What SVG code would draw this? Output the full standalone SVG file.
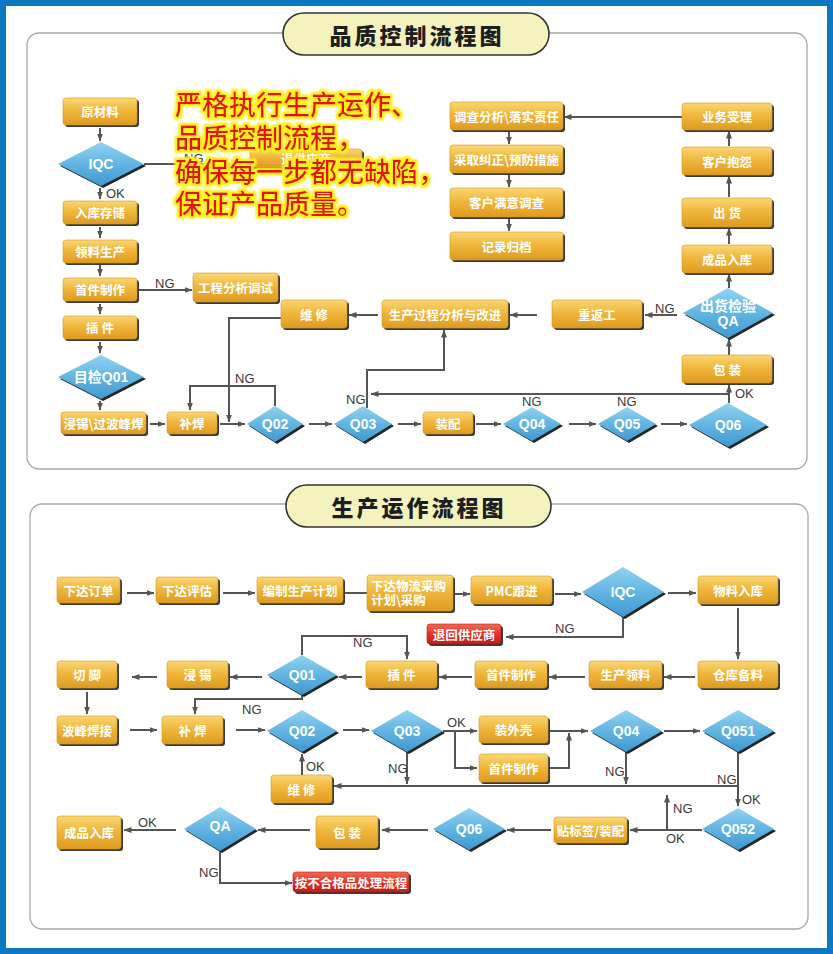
<svg xmlns="http://www.w3.org/2000/svg" width="833" height="954" viewBox="0 0 833 954">
<defs>
<linearGradient id="gOr" x1="0" y1="0" x2="0" y2="1">
<stop offset="0" stop-color="#f9d774"/><stop offset="0.45" stop-color="#f0b73c"/><stop offset="1" stop-color="#dd9b20"/>
</linearGradient>
<linearGradient id="gBl" x1="0" y1="0" x2="0" y2="1">
<stop offset="0" stop-color="#92d2f1"/><stop offset="0.5" stop-color="#62b5e3"/><stop offset="1" stop-color="#3f98d0"/>
</linearGradient>
<linearGradient id="gRd" x1="0" y1="0" x2="0" y2="1">
<stop offset="0" stop-color="#f26a55"/><stop offset="0.5" stop-color="#e0352a"/><stop offset="1" stop-color="#c21d16"/>
</linearGradient>
<marker id="ah" viewBox="0 0 8 6" refX="7.5" refY="3" markerWidth="8" markerHeight="6" markerUnits="userSpaceOnUse" orient="auto">
<path d="M0,0 L8,3 L0,6 z" fill="#555"/>
</marker>
<filter id="glow" x="-5%" y="-30%" width="110%" height="160%">
<feMorphology in="SourceAlpha" operator="dilate" radius="2" result="d"/>
<feGaussianBlur in="d" stdDeviation="1.2" result="b"/>
<feFlood flood-color="#fff01e"/>
<feComposite in2="b" operator="in" result="g"/>
<feMerge><feMergeNode in="g"/><feMergeNode in="g"/><feMergeNode in="SourceGraphic"/></feMerge>
</filter>
</defs>
<style>
.sh{fill:#3a3a3a}
.bx{fill:url(#gOr);stroke:#d9981c;stroke-width:0.6}
.rb{fill:url(#gRd);stroke:#b81a12;stroke-width:0.6}
.dm{fill:url(#gBl)}
.dsh{fill:#262626}
.bt{font-family:"Noto Sans CJK SC","Liberation Sans",sans-serif;font-weight:700;fill:#fff;text-anchor:middle;dominant-baseline:central;font-size:12.5px}
.bl{font-family:"Noto Sans CJK SC","Liberation Sans",sans-serif;font-weight:700;fill:#fff;font-size:12.5px}
.dt{font-family:"Liberation Sans","Noto Sans CJK SC",sans-serif;font-weight:700;fill:#fff;text-anchor:middle;dominant-baseline:central;font-size:14px}
.lb{font-family:"Liberation Sans",sans-serif;font-size:13px;fill:#3a3a3a}
.c{fill:none;stroke:#555;stroke-width:2}
.a{marker-end:url(#ah)}
.panel{fill:#fff;stroke:#a8a8a8;stroke-width:1.3}
.pill{fill:#f4f2bd;stroke:#333;stroke-width:1.6}
.ttl{font-family:"Noto Sans CJK SC",sans-serif;font-weight:900;font-size:22px;fill:#1e1e1e;text-anchor:middle;letter-spacing:3px}
.big{font-family:"Noto Sans CJK SC",sans-serif;font-weight:500;font-size:27px;fill:#e3140c}
</style>

<rect x="3" y="3" width="827" height="948" fill="#fff" stroke="#0b78c1" stroke-width="6"/>

<g id="panel-top">
<rect class="panel" x="27" y="33" width="780" height="436" rx="12"/>
<rect class="pill" x="283" y="13" width="266" height="42" rx="21"/>
<text class="ttl" x="417" y="44">品质控制流程图</text>
</g>
<g id="panel-bottom">
<rect class="panel" x="30" y="504" width="778" height="425" rx="12"/>
<rect class="pill" x="286" y="485" width="265" height="42" rx="21"/>
<text class="ttl" x="419" y="516">生产运作流程图</text>
</g>

<g id="connectors">
<path class="c a" d="M100,128 V141"/>
<path class="c a" d="M100,188 V199"/>
<path class="c" d="M144,164 H250"/>
<path class="c a" d="M100,227 V238"/>
<path class="c a" d="M100,265 V276"/>
<path class="c a" d="M137,290 H192"/>
<path class="c a" d="M100,304 V314"/>
<path class="c a" d="M100,342 V353"/>
<path class="c a" d="M100,401 V410"/>
<path class="c a" d="M150,424 H165"/>
<path class="c a" d="M220,424 H245"/>
<path class="c a" d="M281,318 H229 V422"/>
<path class="c a" d="M275,406 V386 H190 V410"/>
<path class="c a" d="M309,424 H332"/>
<path class="c a" d="M398,424 H421"/>
<path class="c a" d="M367,408 V370 H444 V330"/>
<path class="c a" d="M729,394 H371"/>
<path class="c a" d="M729,403 V385"/>
<path class="c a" d="M476,424 H501"/>
<path class="c a" d="M569,424 H596"/>
<path class="c a" d="M661,424 H687"/>
<path class="c a" d="M729,355 V339"/>
<path class="c a" d="M729,288 V274"/>
<path class="c a" d="M677,315 H645"/>
<path class="c a" d="M537,315 H510"/>
<path class="c a" d="M378,315 H349"/>
<path class="c a" d="M729,244 V228"/>
<path class="c a" d="M729,197 V176"/>
<path class="c a" d="M729,146 V131"/>
<path class="c a" d="M682,117 H564"/>
<path class="c a" d="M509,132 V144"/>
<path class="c a" d="M509,175 V187"/>
<path class="c a" d="M509,219 V231"/>
<path class="c a" d="M127,593 H154"/>
<path class="c a" d="M223,593 H255"/>
<path class="c" d="M345,593 H367"/>
<path class="c a" d="M455,594 H470"/>
<path class="c a" d="M555,594 H581"/>
<path class="c a" d="M668,593 H696"/>
<path class="c a" d="M738,608 V659"/>
<path class="c a" d="M623,617 V637 H506"/>
<path class="c a" d="M695,677 H664"/>
<path class="c a" d="M585,677 H549"/>
<path class="c a" d="M472,677 H439"/>
<path class="c a" d="M362,677 H339"/>
<path class="c a" d="M262,677 H230"/>
<path class="c a" d="M157,677 H132"/>
<path class="c a" d="M87,692 V714"/>
<path class="c a" d="M302,655 V636 H407 V659"/>
<path class="c a" d="M302,695 V699 H195 V714"/>
<path class="c a" d="M130,730 H157"/>
<path class="c a" d="M236,730 H265"/>
<path class="c a" d="M343,730 H369"/>
<path class="c a" d="M407,752 V784"/>
<path class="c a" d="M738,786 H334"/>
<path class="c a" d="M302,775 V754"/>
<path class="c a" d="M443,731 H477"/>
<path class="c a" d="M455,731 V768 H477"/>
<path class="c a" d="M550,731 H588"/>
<path class="c a" d="M550,768 H569 V733"/>
<path class="c a" d="M664,731 H700"/>
<path class="c a" d="M626,752 V784"/>
<path class="c a" d="M738,752 V806"/>
<path class="c a" d="M702,830 H630"/>
<path class="c a" d="M667,830 V795"/>
<path class="c a" d="M551,830 H507"/>
<path class="c a" d="M428,830 H382"/>
<path class="c a" d="M310,830 H258"/>
<path class="c a" d="M176,830 H124"/>
<path class="c a" d="M220,851 V883 H292"/>
</g>

<g id="labels">
<text class="lb" x="184" y="163">NG</text>
<text class="lb" x="106" y="198">OK</text>
<text class="lb" x="155" y="288">NG</text>
<text class="lb" x="235" y="383">NG</text>
<text class="lb" x="346" y="404">NG</text>
<text class="lb" x="522" y="406">NG</text>
<text class="lb" x="617" y="406">NG</text>
<text class="lb" x="735" y="398">OK</text>
<text class="lb" x="655" y="313">NG</text>
<text class="lb" x="555" y="633">NG</text>
<text class="lb" x="353" y="647">NG</text>
<text class="lb" x="242" y="714">NG</text>
<text class="lb" x="388" y="773">NG</text>
<text class="lb" x="306" y="771">OK</text>
<text class="lb" x="447" y="727">OK</text>
<text class="lb" x="605" y="776">NG</text>
<text class="lb" x="717" y="784">NG</text>
<text class="lb" x="742" y="804">OK</text>
<text class="lb" x="673" y="813">NG</text>
<text class="lb" x="666" y="843">OK</text>
<text class="lb" x="138" y="827">OK</text>
<text class="lb" x="199" y="877">NG</text>
</g>

<g id="n-yuancailiao"><rect class="sh" x="65" y="100" width="74" height="27" rx="3"/><rect class="bx" x="63" y="98" width="74" height="27" rx="3"/><text class="bt" x="100" y="111.5">原材料</text></g>
<g id="d-iqc1"><polygon class="dsh" points="60,166 103,144 146,166 103,188"/><polygon class="dm" points="58,164 101,142 144,164 101,186"/><text class="dt" x="101" y="164" font-size="15">IQC</text></g>
<g id="n-tuigongyingshang"><rect class="sh" x="252" y="151" width="112" height="18" rx="3"/><rect class="bx" x="250" y="149" width="112" height="18" rx="3"/><text class="bt" x="306" y="158" font-size="11">退供应商</text></g>
<g id="n-rukucunchu"><rect class="sh" x="65" y="203" width="74" height="23" rx="3"/><rect class="bx" x="63" y="201" width="74" height="23" rx="3"/><text class="bt" x="100" y="212.5">入库存储</text></g>
<g id="n-lingliaoshengchan"><rect class="sh" x="65" y="242" width="74" height="23" rx="3"/><rect class="bx" x="63" y="240" width="74" height="23" rx="3"/><text class="bt" x="100" y="251.5">领料生产</text></g>
<g id="n-shoujianzhizuo1"><rect class="sh" x="65" y="280" width="74" height="23" rx="3"/><rect class="bx" x="63" y="278" width="74" height="23" rx="3"/><text class="bt" x="100" y="289.5">首件制作</text></g>
<g id="n-gongchengfenxi"><rect class="sh" x="195" y="275" width="85" height="29" rx="3"/><rect class="bx" x="193" y="273" width="85" height="29" rx="3"/><text class="bt" x="235.5" y="287.5">工程分析调试</text></g>
<g id="n-chajian1"><rect class="sh" x="65" y="318" width="74" height="23" rx="3"/><rect class="bx" x="63" y="316" width="74" height="23" rx="3"/><text class="bt" x="100" y="327.5">插 件</text></g>
<g id="d-mujian"><polygon class="dsh" points="60,379 103,357 146,379 103,401"/><polygon class="dm" points="58,377 101,355 144,377 101,399"/><text class="dt" x="101" y="377" font-size="13">目检Q01</text></g>
<g id="n-jinxi1"><rect class="sh" x="63" y="414" width="85" height="22" rx="3"/><rect class="bx" x="61" y="412" width="85" height="22" rx="3"/><text class="bt" x="103.5" y="423" font-size="11.5">浸锡\过波峰焊</text></g>
<g id="n-buhan1"><rect class="sh" x="169" y="414" width="50" height="22" rx="3"/><rect class="bx" x="167" y="412" width="50" height="22" rx="3"/><text class="bt" x="192" y="423">补焊</text></g>
<g id="d-q02a"><polygon class="dsh" points="249,426 277,408 305,426 277,444"/><polygon class="dm" points="247,424 275,406 303,424 275,442"/><text class="dt" x="275" y="424">Q02</text></g>
<g id="d-q03a"><polygon class="dsh" points="336,426 365,408 394,426 365,444"/><polygon class="dm" points="334,424 363,406 392,424 363,442"/><text class="dt" x="363" y="424">Q03</text></g>
<g id="n-zhuangpei"><rect class="sh" x="425" y="414" width="50" height="22" rx="3"/><rect class="bx" x="423" y="412" width="50" height="22" rx="3"/><text class="bt" x="448" y="423">装配</text></g>
<g id="d-q04a"><polygon class="dsh" points="505,426 534,409 563,426 534,443"/><polygon class="dm" points="503,424 532,407 561,424 532,441"/><text class="dt" x="532" y="424">Q04</text></g>
<g id="d-q05a"><polygon class="dsh" points="600,426 629,409 658,426 629,443"/><polygon class="dm" points="598,424 627,407 656,424 627,441"/><text class="dt" x="627" y="424">Q05</text></g>
<g id="d-q06a"><polygon class="dsh" points="691,427 730,405 769,427 730,449"/><polygon class="dm" points="689,425 728,403 767,425 728,447"/><text class="dt" x="728" y="425" font-size="18">Q06</text></g>
<g id="n-weixiu1"><rect class="sh" x="283" y="302" width="66" height="28" rx="3"/><rect class="bx" x="281" y="300" width="66" height="28" rx="3"/><text class="bt" x="314" y="314">维 修</text></g>
<g id="n-shengchanguocheng"><rect class="sh" x="384" y="302" width="126" height="28" rx="3"/><rect class="bx" x="382" y="300" width="126" height="28" rx="3"/><text class="bt" x="445" y="314">生产过程分析与改进</text></g>
<g id="n-chongfangong"><rect class="sh" x="554" y="302" width="90" height="28" rx="3"/><rect class="bx" x="552" y="300" width="90" height="28" rx="3"/><text class="bt" x="597" y="314">重返工</text></g>
<g id="d-chuhuojianyan"><polygon class="dsh" points="685,315 730,290 775,315 730,340"/><polygon class="dm" points="683,313 728,288 773,313 728,338"/><text class="dt" x="728" y="306" font-size="10.5">出货检验</text><text class="dt" x="728" y="321" font-size="14" font-weight="400">QA</text></g>
<g id="n-chengpinruku1"><rect class="sh" x="684" y="247" width="90" height="28" rx="3"/><rect class="bx" x="682" y="245" width="90" height="28" rx="3"/><text class="bt" x="727" y="259">成品入库</text></g>
<g id="n-baozhuang1"><rect class="sh" x="684" y="357" width="90" height="28" rx="3"/><rect class="bx" x="682" y="355" width="90" height="28" rx="3"/><text class="bt" x="727" y="369">包 装</text></g>
<g id="n-chuhuo"><rect class="sh" x="684" y="200" width="90" height="29" rx="3"/><rect class="bx" x="682" y="198" width="90" height="29" rx="3"/><text class="bt" x="727" y="212.5">出 货</text></g>
<g id="n-kehubaoyuan"><rect class="sh" x="684" y="149" width="90" height="28" rx="3"/><rect class="bx" x="682" y="147" width="90" height="28" rx="3"/><text class="bt" x="727" y="161">客户抱怨</text></g>
<g id="n-yewushouli"><rect class="sh" x="684" y="105" width="90" height="27" rx="3"/><rect class="bx" x="682" y="103" width="90" height="27" rx="3"/><text class="bt" x="727" y="116.5">业务受理</text></g>
<g id="n-diaochafenxi"><rect class="sh" x="452" y="104" width="113" height="28" rx="3"/><rect class="bx" x="450" y="102" width="113" height="28" rx="3"/><text class="bt" x="506.5" y="116">调查分析\落实责任</text></g>
<g id="n-caiqujiuzheng"><rect class="sh" x="452" y="147" width="113" height="28" rx="3"/><rect class="bx" x="450" y="145" width="113" height="28" rx="3"/><text class="bt" x="506.5" y="159">采取纠正\预防措施</text></g>
<g id="n-kehumanyi"><rect class="sh" x="452" y="190" width="113" height="29" rx="3"/><rect class="bx" x="450" y="188" width="113" height="29" rx="3"/><text class="bt" x="506.5" y="202.5">客户满意调查</text></g>
<g id="n-jiluguidang"><rect class="sh" x="452" y="234" width="113" height="28" rx="3"/><rect class="bx" x="450" y="232" width="113" height="28" rx="3"/><text class="bt" x="506.5" y="246">记录归档</text></g>

<g id="overlay-text" filter="url(#glow)">
<text class="big" x="175" y="115">严格执行生产运作、</text>
<text class="big" x="175" y="148">品质控制流程，</text>
<text class="big" x="175" y="182">确保每一步都无缺陷，</text>
<text class="big" x="175" y="214">保证产品质量。</text>
</g>

<g id="b-xiadadingdan"><rect class="sh" x="59" y="579" width="63" height="26" rx="3"/><rect class="bx" x="57" y="577" width="63" height="26" rx="3"/><text class="bt" x="88.5" y="590">下达订单</text></g>
<g id="b-xiadapinggu"><rect class="sh" x="158" y="579" width="62" height="26" rx="3"/><rect class="bx" x="156" y="577" width="62" height="26" rx="3"/><text class="bt" x="187" y="590">下达评估</text></g>
<g id="b-bianzhi"><rect class="sh" x="259" y="579" width="86" height="26" rx="3"/><rect class="bx" x="257" y="577" width="86" height="26" rx="3"/><text class="bt" x="300" y="590">编制生产计划</text></g>
<g id="b-xiadawuliu"><rect class="sh" x="369" y="577" width="86" height="36" rx="3"/><rect class="bx" x="367" y="575" width="86" height="36" rx="3"/><text class="bl" x="371" y="591">下达物流采购</text><text class="bl" x="371" y="605">计划\采购</text></g>
<g id="b-pmc"><rect class="sh" x="473" y="578" width="81" height="28" rx="3"/><rect class="bx" x="471" y="576" width="81" height="28" rx="3"/><text class="bt" x="511.5" y="590" font-size="14">PMC跟进</text></g>
<g id="bd-iqc"><polygon class="dsh" points="584,594 625,569 666,594 625,619"/><polygon class="dm" points="582,592 623,567 664,592 623,617"/><text class="dt" x="623" y="592" font-size="15" font-weight="400">IQC</text></g>
<g id="b-wuliaoruku"><rect class="sh" x="700" y="578" width="80" height="28" rx="3"/><rect class="bx" x="698" y="576" width="80" height="28" rx="3"/><text class="bt" x="738" y="590">物料入库</text></g>
<g id="b-tuihui"><rect class="sh" x="429" y="626" width="74" height="20" rx="3"/><rect class="rb" x="427" y="624" width="74" height="20" rx="3"/><text class="bt" x="464" y="634" font-size="11.5">退回供应商</text></g>
<g id="b-cangkubeiliao"><rect class="sh" x="700" y="663" width="80" height="27" rx="3"/><rect class="bx" x="698" y="661" width="80" height="27" rx="3"/><text class="bt" x="738" y="674.5">仓库备料</text></g>
<g id="b-shengchanlingliao"><rect class="sh" x="591" y="663" width="73" height="27" rx="3"/><rect class="bx" x="589" y="661" width="73" height="27" rx="3"/><text class="bt" x="625.5" y="674.5">生产领料</text></g>
<g id="b-shoujian2"><rect class="sh" x="477" y="663" width="72" height="27" rx="3"/><rect class="bx" x="475" y="661" width="72" height="27" rx="3"/><text class="bt" x="511" y="674.5">首件制作</text></g>
<g id="b-chajian2"><rect class="sh" x="368" y="663" width="71" height="27" rx="3"/><rect class="bx" x="366" y="661" width="71" height="27" rx="3"/><text class="bt" x="401.5" y="674.5">插 件</text></g>
<g id="bd-q01"><polygon class="dsh" points="269,677 304,657 339,677 304,697"/><polygon class="dm" points="267,675 302,655 337,675 302,695"/><text class="dt" x="302" y="675" font-size="16" font-weight="400">Q01</text></g>
<g id="b-jinxi2"><rect class="sh" x="169" y="663" width="61" height="27" rx="3"/><rect class="bx" x="167" y="661" width="61" height="27" rx="3"/><text class="bt" x="197.5" y="674.5">浸 锡</text></g>
<g id="b-qiejiao"><rect class="sh" x="59" y="663" width="60" height="27" rx="3"/><rect class="bx" x="57" y="661" width="60" height="27" rx="3"/><text class="bt" x="87" y="674.5">切 脚</text></g>
<g id="b-bofenghanjie"><rect class="sh" x="59" y="718" width="60" height="28" rx="3"/><rect class="bx" x="57" y="716" width="60" height="28" rx="3"/><text class="bt" x="87" y="730" font-size="13.5">波峰焊接</text></g>
<g id="b-buhan2"><rect class="sh" x="164" y="718" width="61" height="28" rx="3"/><rect class="bx" x="162" y="716" width="61" height="28" rx="3"/><text class="bt" x="192.5" y="730">补 焊</text></g>
<g id="bd-q02"><polygon class="dsh" points="269,733 304,712 339,733 304,754"/><polygon class="dm" points="267,731 302,710 337,731 302,752"/><text class="dt" x="302" y="731" font-size="16" font-weight="400">Q02</text></g>
<g id="bd-q03"><polygon class="dsh" points="373,733 409,712 445,733 409,754"/><polygon class="dm" points="371,731 407,710 443,731 407,752"/><text class="dt" x="407" y="731" font-size="16" font-weight="400">Q03</text></g>
<g id="b-zhuangwaike"><rect class="sh" x="481" y="718" width="69" height="27" rx="3"/><rect class="bx" x="479" y="716" width="69" height="27" rx="3"/><text class="bt" x="513.5" y="729.5">装外壳</text></g>
<g id="b-shoujian3"><rect class="sh" x="481" y="756" width="69" height="28" rx="3"/><rect class="bx" x="479" y="754" width="69" height="28" rx="3"/><text class="bt" x="513.5" y="768">首件制作</text></g>
<g id="bd-q04"><polygon class="dsh" points="592,733 628,712 664,733 628,754"/><polygon class="dm" points="590,731 626,710 662,731 626,752"/><text class="dt" x="626" y="731" font-size="16" font-weight="400">Q04</text></g>
<g id="bd-q051"><polygon class="dsh" points="704,733 740,712 776,733 740,754"/><polygon class="dm" points="702,731 738,710 774,731 738,752"/><text class="dt" x="738" y="731" font-size="16" font-weight="400">Q051</text></g>
<g id="b-weixiu2"><rect class="sh" x="273" y="777" width="61" height="28" rx="3"/><rect class="bx" x="271" y="775" width="61" height="28" rx="3"/><text class="bt" x="301.5" y="789">维 修</text></g>
<g id="bd-q052"><polygon class="dsh" points="704,831 740,810 776,831 740,852"/><polygon class="dm" points="702,829 738,808 774,829 738,850"/><text class="dt" x="738" y="829" font-size="16" font-weight="400">Q052</text></g>
<g id="b-tiebiaoqian"><rect class="sh" x="556" y="819" width="73" height="26" rx="3"/><rect class="bx" x="554" y="817" width="73" height="26" rx="3"/><text class="bt" x="590.5" y="830">贴标签/装配</text></g>
<g id="bd-q06"><polygon class="dsh" points="435,831 471,810 507,831 471,852"/><polygon class="dm" points="433,829 469,808 505,829 469,850"/><text class="dt" x="469" y="829" font-size="16" font-weight="400">Q06</text></g>
<g id="b-baozhuang2"><rect class="sh" x="318" y="818" width="62" height="32" rx="3"/><rect class="bx" x="316" y="816" width="62" height="32" rx="3"/><text class="bt" x="347" y="832" font-size="15">包 装</text></g>
<g id="bd-qa"><polygon class="dsh" points="186,831 222,809 258,831 222,853"/><polygon class="dm" points="184,829 220,807 256,829 220,851"/><text class="dt" x="220" y="826" font-size="15" font-weight="400">QA</text></g>
<g id="b-chengpinruku2"><rect class="sh" x="59" y="818" width="64" height="33" rx="3"/><rect class="bx" x="57" y="816" width="64" height="33" rx="3"/><text class="bt" x="89" y="832.5" font-size="14">成品入库</text></g>
<g id="b-buhege"><rect class="sh" x="295" y="874" width="116" height="20" rx="3"/><rect class="rb" x="293" y="872" width="116" height="20" rx="3"/><text class="bt" x="351" y="882" font-size="11.5">按不合格品处理流程</text></g>
</svg>
